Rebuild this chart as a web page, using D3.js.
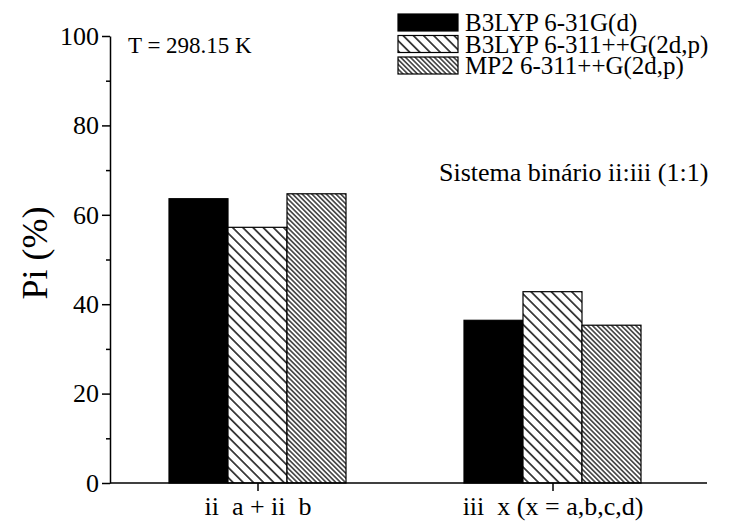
<!DOCTYPE html>
<html>
<head>
<meta charset="utf-8">
<script src="https://cdn.jsdelivr.net/npm/d3@7"></script>
<style>
  body { margin: 0; background: #fff; }
  svg { display: block; font-family: "Liberation Serif", "Times New Roman", serif; }
</style>
</head>
<body>
<div id="chart"></div>
<script>
// data
var categories = ["ii  a + ii  b", "iii  x (x = a,b,c,d)"];
var seriesNames = ["B3LYP 6-31G(d)", "B3LYP 6-311++G(2d,p)", "MP2 6-311++G(2d,p)"];
var b3lyp631 = [63.6, 36.4];
var b3lyp6311 = [57.2, 42.8];
var mp2 = [64.7, 35.3];
var yTicks = [0, 20, 40, 60, 80, 100];
var yMinor = [10, 30, 50, 70, 90];

var width = 737, height = 522;
var plotLeft = 110, plotTop = 36, plotBottom = 483, axisEnd = 707;
var serif = "Liberation Serif, Times New Roman, serif";

var svg = d3.select("#chart").append("svg")
  .attr("width", width)
  .attr("height", height);

// hatch patterns: "\" lines, wide and dense
var defs = svg.append("defs");
function hatch(id, gap, sw) {
  var p = defs.append("pattern")
    .attr("id", id)
    .attr("patternUnits", "userSpaceOnUse")
    .attr("width", gap)
    .attr("height", gap)
    .attr("patternTransform", "rotate(-45)");
  p.append("rect").attr("width", gap).attr("height", gap).attr("fill", "#fff");
  p.append("line")
    .attr("x1", gap / 2).attr("y1", 0)
    .attr("x2", gap / 2).attr("y2", gap)
    .attr("stroke", "#000")
    .attr("stroke-width", sw);
}
hatch("hatchWide", 7.2, 1.4);
hatch("hatchDense", 3.4, 1.2);

var fills = ["#000", "url(#hatchWide)", "url(#hatchDense)"];
var values = [b3lyp631, b3lyp6311, mp2];

var x = d3.scalePoint().domain(categories).range([plotLeft, 700]).padding(0.5);
var inner = d3.scaleBand().domain(seriesNames)
  .range([-0.3 * x.step(), 0.3 * x.step()]);
var y = d3.scaleLinear().domain([0, 100]).range([plotBottom, plotTop]);

// bars
seriesNames.forEach(function(name, s) {
  svg.append("g").selectAll("rect")
    .data(values[s])
    .enter().append("rect")
    .attr("x", function(d, i) { return x(categories[i]) + inner(name); })
    .attr("y", function(d) { return y(d); })
    .attr("width", inner.bandwidth())
    .attr("height", function(d) { return y(0) - y(d); })
    .attr("fill", fills[s])
    .attr("stroke", "#000")
    .attr("stroke-width", 1.2);
});

// y axis
var yAxis = svg.append("g")
  .attr("transform", "translate(" + plotLeft + ",0)")
  .call(d3.axisLeft(y).tickValues(yTicks).tickSize(8).tickSizeOuter(0).tickPadding(3))
  .attr("font-family", serif);
yAxis.selectAll("text").attr("font-size", 26).attr("fill", "#000");
svg.append("g")
  .attr("transform", "translate(" + plotLeft + ",0)")
  .call(d3.axisLeft(y).tickValues(yMinor).tickSize(4).tickFormat(""))
  .select(".domain").remove();

// x axis
var xAxis = svg.append("g")
  .attr("transform", "translate(0," + plotBottom + ")")
  .call(d3.axisBottom(x).tickSize(8).tickSizeOuter(0).tickPadding(6))
  .attr("font-family", serif);
xAxis.select(".domain").attr("d", "M" + plotLeft + ",0H" + axisEnd);
xAxis.selectAll("text")
  .attr("font-size", 26)
  .attr("fill", "#000")
  .style("white-space", "pre");

svg.selectAll(".domain, .tick line").attr("stroke", "#000").attr("stroke-width", 1.5);

// y title
svg.append("text")
  .attr("transform", "translate(47,253) rotate(-90)")
  .attr("text-anchor", "middle")
  .attr("font-size", 36)
  .text("Pi (%)");

// annotations
svg.append("text")
  .attr("x", 128).attr("y", 53)
  .attr("font-size", 23)
  .text("T = 298.15 K");

svg.append("text")
  .attr("x", 439).attr("y", 181)
  .attr("font-size", 26)
  .text("Sistema binário ii:iii (1:1)");

// legend
var legend = svg.append("g").attr("transform", "translate(398,14)");
seriesNames.forEach(function(name, s) {
  var row = legend.append("g").attr("transform", "translate(0," + s * 21.5 + ")");
  row.append("rect")
    .attr("width", 60).attr("height", 17)
    .attr("fill", fills[s])
    .attr("stroke", "#000")
    .attr("stroke-width", 1.2);
  row.append("text")
    .attr("x", 67).attr("y", 17)
    .attr("font-size", 25)
    .text(name);
});
</script>
</body>
</html>
